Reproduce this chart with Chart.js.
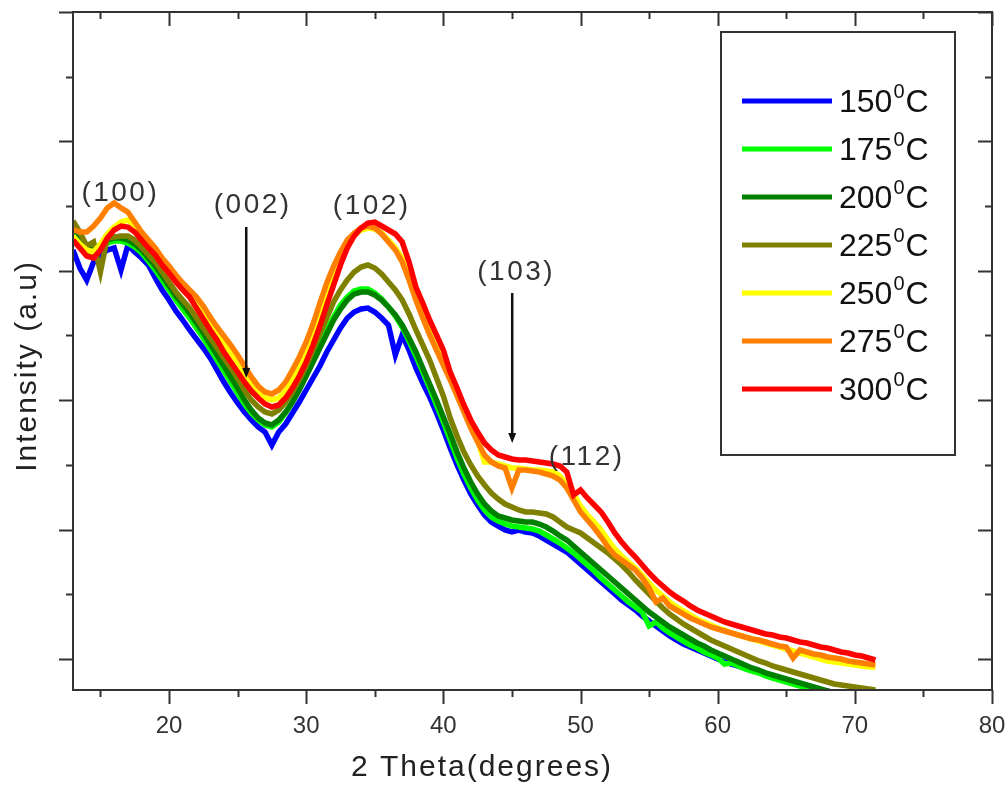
<!DOCTYPE html>
<html>
<head>
<meta charset="utf-8">
<script src="https://cdn.jsdelivr.net/npm/chart.js@4.4.1/dist/chart.umd.min.js"></script>
<style>
  html, body { margin: 0; padding: 0; background: #fff; }
  #wrap { width: 1008px; height: 787px; position: relative; }
</style>
</head>
<body>
<div id="wrap"><canvas id="xrd"></canvas></div>
<script>
const FONT = '"Liberation Sans", Arial, sans-serif';

// 2 theta (degrees)
const twoTheta = [
  13, 13.5, 14, 14.5, 15, 15.5, 16, 16.5, 17, 17.5,
  18, 18.5, 19, 19.5, 20, 20.5, 21, 21.5, 22, 22.5,
  23, 23.5, 24, 24.5, 25, 25.5, 26, 26.5, 27, 27.5,
  28, 28.5, 29, 29.5, 30, 30.5, 31, 31.5, 32, 32.5,
  33, 33.5, 34, 34.5, 35, 35.5, 36, 36.5, 37, 37.5,
  38, 38.5, 39, 39.5, 40, 40.5, 41, 41.5, 42, 42.5,
  43, 43.5, 44, 44.5, 45, 45.5, 46, 46.5, 47, 47.5,
  48, 48.5, 49, 49.5, 50, 50.5, 51, 51.5, 52, 52.5,
  53, 53.5, 54, 54.5, 55, 55.5, 56, 56.5, 57, 57.5,
  58, 58.5, 59, 59.5, 60, 60.5, 61, 61.5, 62, 62.5,
  63, 63.5, 64, 64.5, 65, 65.5, 66, 66.5, 67, 67.5,
  68, 68.5, 69, 69.5, 70, 70.5, 71, 71.5
];

// intensity (a.u.), one list per annealing temperature
const i150 = [
  440, 422, 410, 428, 435, 440, 442, 420, 445, 438,
  432, 425, 412, 400, 390, 379, 370, 360, 351, 342,
  332, 320, 308, 297, 287, 278, 270, 263, 258, 245,
  258, 266, 277, 288, 300, 312, 324, 338, 350, 362,
  372, 378, 381, 382, 378, 372, 365, 335, 355, 340,
  322, 307, 293, 277, 260, 242, 225, 210, 196, 185,
  175, 168, 164, 160, 158, 160, 158, 157, 154, 150,
  146, 142, 138, 132, 126, 120, 114, 108, 102, 96,
  90, 85, 80, 74, 69, 64, 59, 54, 50, 46,
  43, 40, 37, 34, 31, 28, 26, 24, 22, 20,
  18, 16, 14, 12, 9, 7, 5, 3, 2, 0,
  -1, -3, -4, -6, -7, -8, -9, -10
];
const i175 = [
  458, 446, 436, 438, 442, 447, 449, 449, 447, 443,
  437, 429, 420, 410, 400, 390, 381, 372, 362, 352,
  341, 330, 319, 308, 297, 286, 277, 270, 265, 263,
  268, 277, 288, 301, 316, 331, 346, 360, 373, 385,
  393, 399, 401, 401, 397, 391, 383, 374, 363, 349,
  334, 318, 302, 285, 268, 250, 232, 216, 202, 190,
  180, 173, 169, 166, 164, 163, 162, 161, 159, 155,
  151, 147, 142, 137, 131, 125, 119, 112, 106, 100,
  94, 88, 83, 78, 64, 68, 62, 57, 53, 49,
  45, 42, 38, 35, 32, 26, 27, 24, 21, 19,
  17, 14, 12, 10, 8, 6, 4, 2, 0, -2,
  -4, -6, -8, -10, -11, -12, -13, -14
];
const i200 = [
  462, 450, 440, 442, 445, 450, 452, 452, 450, 446,
  440, 432, 424, 414, 404, 394, 386, 377, 367, 357,
  346, 335, 324, 313, 302, 290, 280, 272, 267, 265,
  270, 278, 288, 300, 314, 328, 342, 356, 370, 381,
  390, 396, 398, 398, 395, 390, 383, 375, 365, 352,
  338, 322, 306, 290, 273, 256, 238, 222, 208, 196,
  186, 179, 174, 172, 170, 169, 168, 168, 166, 163,
  159, 154, 150, 144, 138, 132, 126, 120, 114, 108,
  102, 96, 90, 84, 78, 73, 68, 63, 59, 55,
  51, 47, 44, 40, 37, 34, 31, 28, 25, 22,
  20, 17, 15, 13, 11, 9, 7, 5, 3, 1,
  -1, -3, -5, -7, -9, -10, -11, -12
];
const i225 = [
  469, 458, 444, 448, 418, 452, 453, 454, 454, 450,
  443, 435, 428, 418, 408, 398, 390, 382, 372, 362,
  352, 342, 332, 322, 312, 300, 290, 283, 278, 276,
  280, 288, 298, 310, 324, 340, 356, 372, 388, 400,
  410, 418, 423, 425, 422, 416, 408, 400, 390, 376,
  360, 345, 330, 312, 294, 272, 254, 238, 225, 214,
  205, 197, 191, 186, 183, 180, 178, 178, 177, 176,
  173, 168, 163, 160, 157, 152, 147, 142, 137, 131,
  125, 118, 110, 103, 96, 89, 82, 76, 71, 66,
  62, 58, 54, 50, 47, 44, 41, 38, 35, 32,
  29, 27, 24, 22, 20, 18, 16, 14, 12, 10,
  8, 6, 5, 4, 3, 2, 1, 0
];
const i250 = [
  454, 446, 440, 438, 446, 456, 463, 468, 470, 464,
  456, 448, 440, 431, 422, 413, 405, 397, 388, 378,
  367, 357, 347, 337, 327, 316, 306, 298, 292, 290,
  292, 299, 310, 323, 338, 356, 376, 396, 415, 432,
  446, 455, 460, 462, 461, 457, 450, 442, 432, 414,
  394, 377, 360, 345, 330, 314, 298, 282, 266, 250,
  228, 228, 226, 224, 222, 222, 221, 220, 220, 219,
  218, 214, 206, 196, 184, 175, 168, 160, 150, 141,
  134, 128, 122, 115, 107, 100, 94, 88, 83, 79,
  75, 71, 68, 65, 62, 60, 57, 55, 53, 51,
  49, 47, 45, 43, 41, 39, 37, 35, 33, 31,
  29, 28, 27, 26, 25, 24, 23, 23
];
const i275 = [
  460, 458, 458, 464, 472, 482, 487, 482, 478, 468,
  458, 450, 442, 432, 424, 415, 407, 400, 393, 384,
  373, 363, 354, 345, 335, 324, 313, 304, 298, 296,
  300, 308, 320, 333, 348, 366, 387, 407, 424, 438,
  450, 457, 462, 464, 462, 456, 448, 440, 428, 410,
  390, 372, 355, 340, 325, 310, 294, 278, 262, 248,
  235, 228, 224, 222, 202, 220, 220, 219, 218, 216,
  214, 210, 202, 190, 178, 170, 162, 153, 143, 135,
  130, 125, 120, 112, 102, 88, 92, 84, 80, 76,
  72, 69, 66, 63, 61, 59, 57, 55, 53, 51,
  50, 48, 46, 44, 43, 32, 40, 38, 36, 35,
  33, 32, 31, 29, 28, 27, 26, 25
];
const i300 = [
  450, 442, 434, 432, 440, 452, 460, 464, 463, 458,
  450, 442, 435, 425, 417, 408, 400, 393, 382, 371,
  360, 350, 338, 328, 318, 308, 299, 292, 286, 283,
  285, 292, 302, 314, 328, 345, 364, 385, 405, 425,
  442, 454, 462, 467, 468, 464, 460, 456, 448, 428,
  403, 387, 370, 355, 340, 318, 302, 285, 270, 258,
  247, 240, 235, 233, 231, 230, 230, 229, 228, 227,
  226, 224, 218, 195, 200, 192, 185, 178, 168, 157,
  148, 140, 133, 125, 117, 110, 104, 98, 93, 89,
  84, 80, 77, 74, 71, 68, 66, 64, 62, 60,
  58, 56, 55, 53, 52, 50, 48, 47, 45, 43,
  42, 40, 38, 37, 35, 34, 32, 30
];

const temps = ['150', '175', '200', '225', '250', '275', '300'];
const colors = ['#0000ff', '#00ff00', '#008000', '#808000', '#ffff00', '#ff8000', '#ff0000'];
const series = [i150, i175, i200, i225, i250, i275, i300];

const xMajorTicks = [20, 30, 40, 50, 60, 70, 80];
const xMinorTicks = [15, 25, 35, 45, 55, 65, 75];
const xTickLabels = ['20', '30', '40', '50', '60', '70', '80'];
const yMajorTicks = [31, 160, 290, 419, 549, 678];
const yMinorTicks = [96, 225, 355, 484, 613];

// reflection labels, placed in data units
const peaks = [
  { text: '(100)', x: 16.45, y: 497 },
  { text: '(002)', x: 26.1, y: 485, arrowX: 25.63, from: 463, to: 312 },
  { text: '(102)', x: 34.78, y: 484 },
  { text: '(103)', x: 45.31, y: 418, arrowX: 45.02, from: 397, to: 247 },
  { text: '(112)', x: 50.45, y: 233 },
];

const datasets = series.map((vals, i) => ({
  label: temps[i] + '°C',
  data: twoTheta.map((t, j) => ({ x: t, y: vals[j] })),
  borderColor: colors[i],
  backgroundColor: colors[i],
  borderWidth: 5.5,
  pointRadius: 0,
  tension: 0,
  fill: false,
  clip: 0,
  order: series.length - 1 - i,
}));

const decorations = {
  id: 'decorations',
  afterDraw(chart) {
    const { ctx, chartArea: a, scales: { x, y } } = chart;
    ctx.save();

    // axes frame + ticks (bottom/left outward, top/right inward)
    ctx.strokeStyle = '#333';
    ctx.lineWidth = 2;
    ctx.strokeRect(a.left, a.top, a.right - a.left, a.bottom - a.top);
    ctx.beginPath();
    const xt = (v, len) => {
      const px = Math.round(x.getPixelForValue(v)) + 0.5;
      ctx.moveTo(px, a.bottom); ctx.lineTo(px, a.bottom + len);
      ctx.moveTo(px, a.top); ctx.lineTo(px, a.top + len);
    };
    const yt = (v, len) => {
      const py = Math.round(y.getPixelForValue(v)) + 0.5;
      ctx.moveTo(a.left, py); ctx.lineTo(a.left - len, py);
      ctx.moveTo(a.right, py); ctx.lineTo(a.right - len, py);
    };
    xMajorTicks.forEach(v => xt(v, 14));
    xMinorTicks.forEach(v => xt(v, 7));
    yMajorTicks.forEach(v => yt(v, 14));
    yMinorTicks.forEach(v => yt(v, 7));
    ctx.stroke();

    // axis titles
    ctx.fillStyle = '#222';
    ctx.font = '30px ' + FONT;
    ctx.letterSpacing = '2px';
    ctx.textAlign = 'center';
    ctx.textBaseline = 'middle';
    ctx.fillText('2 Theta(degrees)', 482, 768);
    ctx.save();
    ctx.translate(28, 366);
    ctx.rotate(-Math.PI / 2);
    ctx.fillText('Intensity (a.u)', 0, 0);
    ctx.restore();

    // reflection labels and arrows
    ctx.font = '28px ' + FONT;
    ctx.letterSpacing = '2.5px';
    ctx.fillStyle = '#333';
    peaks.forEach(p => {
      ctx.fillText(p.text, x.getPixelForValue(p.x), y.getPixelForValue(p.y));
      if (p.arrowX !== undefined) {
        const ax = x.getPixelForValue(p.arrowX);
        const y0 = y.getPixelForValue(p.from);
        const y1 = y.getPixelForValue(p.to);
        ctx.strokeStyle = '#111';
        ctx.lineWidth = 2.5;
        ctx.beginPath();
        ctx.moveTo(ax, y0); ctx.lineTo(ax, y1 - 6);
        ctx.stroke();
        ctx.fillStyle = '#111';
        ctx.beginPath();
        ctx.moveTo(ax - 4, y1 - 10); ctx.lineTo(ax + 4, y1 - 10); ctx.lineTo(ax, y1);
        ctx.closePath();
        ctx.fill();
        ctx.fillStyle = '#333';
      }
    });
    ctx.letterSpacing = '0px';

    // legend box
    ctx.strokeStyle = '#333';
    ctx.lineWidth = 2;
    ctx.strokeRect(721, 32, 234, 423);
    ctx.textAlign = 'left';
    ctx.textBaseline = 'alphabetic';
    temps.forEach((t, i) => {
      const ly = 101 + i * 48;
      ctx.strokeStyle = colors[i];
      ctx.lineWidth = 5;
      ctx.beginPath();
      ctx.moveTo(742, ly); ctx.lineTo(832, ly);
      ctx.stroke();
      ctx.fillStyle = '#111';
      ctx.font = '32px ' + FONT;
      ctx.fillText(t, 839, ly + 11);
      let tx = 839 + ctx.measureText(t).width + 1;
      ctx.font = '20px ' + FONT;
      ctx.fillText('0', tx, ly - 3);
      tx += ctx.measureText('0').width + 1;
      ctx.font = '32px ' + FONT;
      ctx.fillText('C', tx, ly + 11);
    });

    ctx.restore();
  }
};

new Chart(document.getElementById('xrd'), {
  type: 'line',
  data: { datasets },
  options: {
    responsive: true,
    maintainAspectRatio: false,
    animation: false,
    layout: { padding: { top: 12, right: 16, left: 0, bottom: 0 } },
    plugins: { legend: { display: false }, tooltip: { enabled: false } },
    scales: {
      x: {
        type: 'linear',
        min: 13,
        max: 80,
        grid: { display: false, drawTicks: false },
        border: { display: false },
        afterBuildTicks: (s) => { s.ticks = xMajorTicks.map(v => ({ value: v })); },
        afterFit: (s) => { s.height = 97; s.paddingLeft = 0; s.paddingRight = 0; },
        ticks: {
          autoSkip: false,
          maxRotation: 0,
          padding: 22,
          color: '#333',
          font: { family: FONT, size: 24 },
          callback: (v, i) => xTickLabels[i],
        },
      },
      y: {
        type: 'linear',
        min: 0,
        max: 678,
        grid: { display: false, drawTicks: false },
        border: { display: false },
        ticks: { display: false },
        afterFit: (s) => { s.width = 73; s.paddingTop = 0; s.paddingBottom = 0; },
      },
    },
  },
  plugins: [decorations],
});
</script>
</body>
</html>
